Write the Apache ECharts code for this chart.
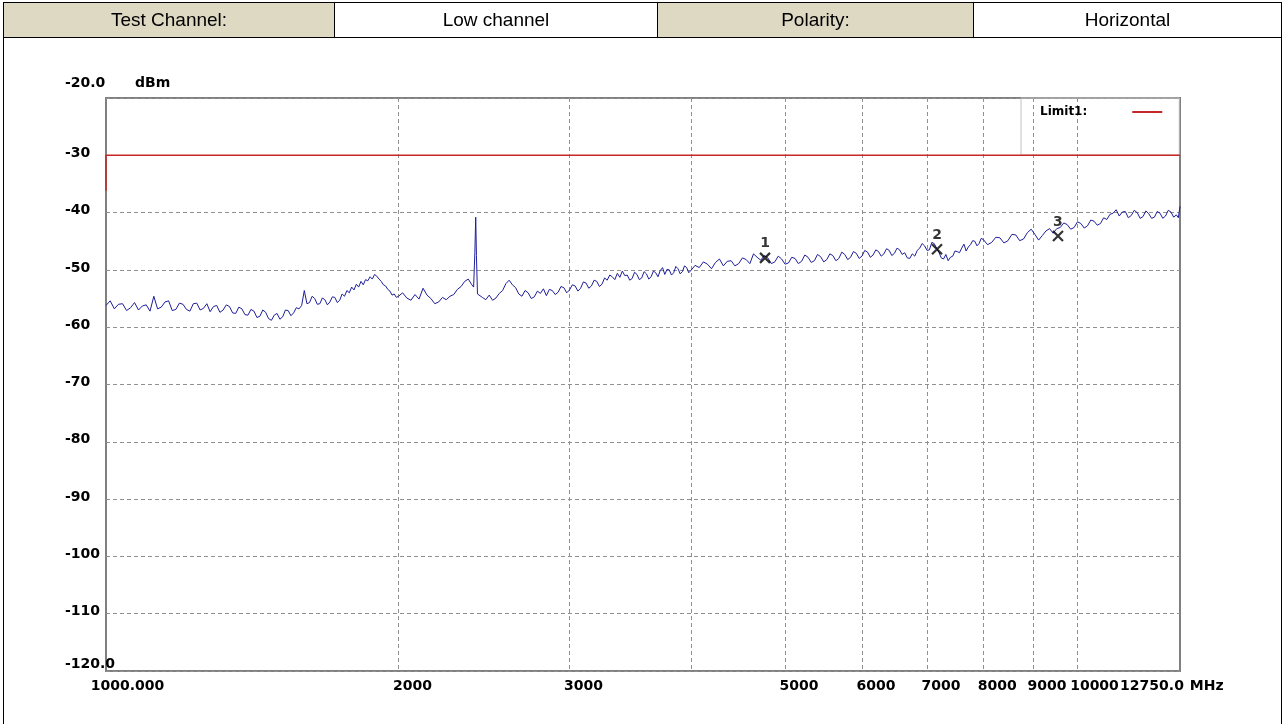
<!DOCTYPE html>
<html>
<head>
<meta charset="utf-8">
<script src="https://cdn.jsdelivr.net/npm/echarts@6/dist/echarts.min.js"></script>
<style>
  body { margin: 0; background: #fff; }
  #frame { position: absolute; left: 3px; top: 2px; width: 1279px; height: 722px; border-left: 1px solid #000; border-right: 1px solid #000; box-sizing: border-box; }
  table { position: absolute; left: 3px; top: 2px; width: 1279px; height: 36px; border-collapse: collapse;
          font-family: "Liberation Sans", Arial, sans-serif; font-size: 19px; }
  td { border: 1px solid #000; text-align: center; padding: 0; }
  td.h { background: #ddd9c3; }
  #chart { position: absolute; left: 0; top: 0; width: 1283px; height: 724px; }
</style>
</head>
<body>
<div id="frame"></div>
<div id="chart"></div>
<table>
  <tr>
    <td class="h" style="width:330px">Test Channel:</td>
    <td style="width:322px">Low channel</td>
    <td class="h" style="width:315px">Polarity:</td>
    <td>Horizontal</td>
  </tr>
</table>
<script>
var freqs = [
  1000,1010,1020,1030,1040,1050,1060,1070,1080,1090,1100,1110,1120,1130,1140,1150,1160,1170,1180,1190,
  1200,1210,1220,1230,1240,1250,1260,1270,1280,1290,1300,1310,1320,1330,1340,1350,1360,1370,1380,1390,
  1400,1410,1420,1430,1440,1450,1460,1470,1480,1490,1500,1510,1520,1530,1540,1550,1560,1570,1580,1590,
  1600,1610,1620,1630,1640,1650,1660,1670,1680,1690,1700,1710,1720,1730,1740,1750,1760,1770,1780,1790,
  1800,1810,1820,1830,1840,1850,1860,1870,1880,1890,1900,1910,1920,1930,1940,1950,1960,1970,1980,1990,2000,
  2020,2040,2060,2080,2100,2120,2140,2160,2180,2200,2220,2240,2260,2280,2300,2320,2340,2360,2380,
  2390,2397,2402,2406,2412,
  2420,2440,2460,2480,2500,2520,2540,2560,2580,2600,2620,2640,2660,2680,2700,2720,2740,2760,2780,2800,
  2820,2840,2860,2880,2900,2920,2940,2960,2980,3000,3020,3040,3060,3080,3100,3120,3140,3160,3180,3200,
  3220,3240,3260,3280,3300,3320,3340,3360,3380,3400,3420,3440,3460,3480,3500,3520,3540,3560,3580,3600,
  3620,3640,3660,3680,3700,3720,3740,3760,3780,3800,3820,3840,3860,3880,3900,3920,3940,3960,3980,4000,
  4040,4080,4120,4160,4200,4240,4280,4320,4360,4400,4440,4480,4520,4560,4600,4640,4680,4720,4760,4800,
  4840,4880,4920,4960,5000,5040,5080,5120,5160,5200,5240,5280,5320,5360,5400,5440,5480,5520,5560,5600,
  5640,5680,5720,5760,5800,5840,5880,5920,5960,6000,6040,6080,6120,6160,6200,6240,6280,6320,6360,6400,
  6440,6480,6520,6560,6600,6640,6680,6720,6760,6800,6840,6880,6920,6960,7000,7040,7080,7120,7160,7200,
  7240,7280,7320,7360,7400,7440,7480,7520,7560,7600,7640,7680,7720,7760,7800,7840,7880,7920,7960,8000,
  8080,8160,8240,8320,8400,8480,8560,8640,8720,8800,8880,8960,9040,9120,9200,9280,9360,9440,9520,9600,
  9680,9760,9840,9920,10000,10080,10160,10240,10320,10400,10480,10560,10640,10720,10800,10880,10960,11040,11120,11200,
  11280,11360,11440,11520,11600,11680,11760,11840,11920,12000,12080,12160,12240,12320,12400,12480,12560,12640,12700,12750
];
var levels = [
  -56.2,-55.4,-56.8,-56.0,-55.9,-57.1,-56.6,-55.7,-57.0,-56.3,-56.1,-57.2,-54.6,-56.8,-56.5,-55.6,-55.4,-57.1,-56.9,-55.8,
  -56.0,-56.9,-57.2,-55.9,-55.8,-57.0,-56.7,-55.9,-57.3,-56.4,-56.2,-57.4,-57.0,-56.1,-56.4,-57.5,-57.6,-56.5,-56.8,-57.8,
  -57.9,-56.9,-57.2,-58.3,-58.1,-57.0,-57.4,-58.5,-58.8,-57.9,-57.6,-58.6,-58.2,-57.0,-57.1,-58.0,-57.5,-56.6,-56.8,-56.2,
  -53.6,-55.9,-55.7,-54.6,-55.0,-56.0,-55.9,-54.9,-55.2,-56.1,-55.6,-54.7,-54.8,-55.7,-55.3,-54.2,-54.6,-53.6,-54.0,-53.0,
  -53.5,-52.5,-53.0,-52.0,-52.6,-51.7,-51.9,-51.2,-51.6,-50.8,-51.1,-51.6,-52.0,-52.6,-52.8,-53.4,-53.7,-54.4,-54.2,-54.8,-54.6,
  -54.0,-54.9,-55.3,-54.3,-55.1,-53.2,-54.4,-55.0,-55.9,-55.6,-54.8,-55.2,-54.6,-54.3,-53.4,-52.9,-52.0,-51.6,-52.6,
  -53.0,-47.0,-40.8,-47.5,-54.2,
  -54.0,-54.8,-55.2,-54.4,-55.3,-54.9,-54.1,-53.6,-52.4,-51.8,-52.6,-53.1,-54.2,-54.6,-53.6,-54.0,-55.0,-54.7,-53.7,-54.1,
  -53.3,-54.5,-53.4,-53.6,-54.3,-53.9,-52.9,-53.1,-54.0,-53.5,-52.6,-52.8,-53.7,-53.2,-52.1,-52.3,-53.2,-52.8,-51.8,-52.0,
  -52.9,-52.5,-51.4,-51.8,-50.9,-51.2,-51.7,-50.6,-51.3,-50.2,-51.0,-50.9,-51.8,-51.5,-50.4,-50.8,-51.7,-51.4,-50.3,-50.7,
  -51.6,-51.2,-50.2,-50.5,-51.2,-50.1,-49.6,-50.8,-49.9,-50.0,-50.9,-50.5,-49.4,-49.8,-50.7,-50.3,-49.3,-49.6,-50.5,-50.1,
  -49.2,-49.6,-48.6,-49.0,-49.8,-48.7,-48.1,-49.3,-48.5,-48.4,-49.3,-48.9,-47.9,-48.2,-48.9,-47.2,-47.8,-48.3,-47.5,-47.9,
  -48.9,-48.6,-47.6,-48.1,-49.0,-48.8,-47.8,-48.0,-48.9,-48.5,-47.4,-47.8,-48.7,-48.4,-47.3,-47.7,-48.6,-48.2,-47.2,-47.5,
  -48.4,-48.0,-46.9,-47.3,-48.2,-47.8,-46.8,-47.1,-48.0,-47.6,-46.6,-46.9,-47.8,-47.4,-46.5,-46.8,-47.6,-47.2,-46.3,-46.6,
  -47.5,-47.1,-46.2,-46.5,-47.3,-47.0,-47.9,-48.0,-47.2,-47.6,-46.6,-46.2,-45.4,-45.8,-46.6,-46.5,-45.2,-45.4,-46.2,-46.9,
  -47.9,-48.1,-47.3,-48.4,-47.8,-47.6,-46.7,-46.8,-47.0,-46.2,-45.5,-46.7,-46.0,-45.6,-44.9,-45.0,-45.8,-45.4,-44.5,-44.7,
  -45.6,-45.2,-44.3,-44.4,-45.3,-44.9,-43.8,-43.9,-44.9,-44.6,-43.5,-42.9,-43.8,-44.8,-44.0,-43.2,-42.8,-43.6,-42.8,-42.6,
  -41.8,-42.1,-42.9,-42.6,-41.6,-41.9,-42.7,-42.3,-41.3,-41.5,-42.2,-41.9,-40.9,-41.2,-40.3,-40.1,-39.5,-40.6,-39.9,-39.8,
  -40.9,-40.5,-39.6,-40.0,-41.0,-40.7,-39.7,-40.2,-41.0,-40.8,-39.8,-40.1,-41.0,-40.6,-39.6,-39.9,-40.8,-40.4,-40.9,-38.9
];
var limitFreqs = [1000, 1000, 12750];
var limitLevels = [-36.2, -30, -30];
var markerFreqs = [4768, 7168, 9548];
var markerLevels = [-47.9, -46.4, -44.1];
var markerNames = ['1', '2', '3'];
var gridFreqs = [2000, 3000, 4000, 5000, 6000, 7000, 8000, 9000, 10000];
var xLabelFreqs = [1000, 2000, 3000, 5000, 6000, 7000, 8000, 9000, 10000, 12749.99];
var yTicks = [-120, -110, -100, -90, -80, -70, -60, -50, -40, -30, -20];

var chart = echarts.init(document.getElementById('chart'));

var trace = freqs.map(function (f, i) { return [f, levels[i]]; });
var limit = limitFreqs.map(function (f, i) { return [f, limitLevels[i]]; });
var markers = markerFreqs.map(function (f, i) { return { value: [f, markerLevels[i]], name: markerNames[i] }; });

var lbl = { fontFamily: 'DejaVu Sans', fontWeight: 'bold', fontSize: 14, color: '#000' };

option = {
  animation: false,
  grid: { left: 106, top: 98, right: 103, bottom: 53, show: true, borderColor: '#808080', borderWidth: 2, backgroundColor: 'transparent' },
  legend: {
    data: [{ name: 'Limit1:', icon: 'rect' }],
    left: 1021, top: 98, z: 1,
    orient: 'vertical', align: 'right',
    itemWidth: 30, itemHeight: 2,
    padding: [8, 17, 37, 19],
    borderColor: '#c0c0c0', borderWidth: 1,
    selectedMode: false,
    textStyle: { fontFamily: 'DejaVu Sans', fontWeight: 'bold', fontSize: 12, color: '#000', padding: [0, 40, 0, 0] }
  },
  xAxis: {
    type: 'log', logBase: 10, min: 1000, max: 12750,
    name: 'MHz', nameLocation: 'end', nameGap: 6,
    nameTextStyle: Object.assign({ verticalAlign: 'top', padding: [8, 0, 0, 0] }, lbl),
    axisLine: { show: false },
    axisTick: { show: false, customValues: gridFreqs },
    splitLine: { show: true, lineStyle: { color: '#909090', type: [4, 3], width: 1 } },
    axisLabel: {
      customValues: xLabelFreqs, margin: 8,
      showMinLabel: true, showMaxLabel: true, hideOverlap: false,
      formatter: function (v) {
        if (v === 1000) return '{s|1000.000}';
        if (v > 12000) return '{e|12750.0}';
        if (v === 10000) return '{m|10000}';
        return '{n|' + v + '}';
      },
      rich: {
        s: Object.assign({ padding: [0, 0, 0, 43] }, lbl),
        e: Object.assign({ padding: [0, 56, 0, 0] }, lbl),
        m: Object.assign({ padding: [0, 0, 0, 34] }, lbl),
        n: Object.assign({ padding: [0, 0, 0, 28] }, lbl)
      }
    }
  },
  yAxis: {
    type: 'value', min: -120, max: -20, interval: 10,
    name: 'dBm', nameLocation: 'end', nameGap: 15,
    nameTextStyle: Object.assign({ align: 'left', verticalAlign: 'middle', padding: [0, 0, 0, 29] }, lbl),
    axisLine: { show: false },
    axisTick: { show: false },
    splitLine: { show: true, lineStyle: { color: '#909090', type: [4, 3], width: 1 } },
    axisLabel: {
      align: 'left', margin: 41,
      customValues: yTicks,
      showMinLabel: true, showMaxLabel: true,
      formatter: function (v) {
        if (v === -20) return '{t|-20.0}';
        if (v === -120) return '{b|-120.0}';
        return '{n|' + v + '}';
      },
      rich: {
        t: Object.assign({ padding: [0, 0, 30, 0] }, lbl),
        b: Object.assign({ padding: [0, 0, 14, 0] }, lbl),
        n: Object.assign({ padding: [0, 0, 4, 0] }, lbl)
      }
    }
  },
  series: [
    {
      name: 'Limit1:', type: 'line', data: limit, showSymbol: false,
      color: '#c62828', lineStyle: { color: '#c62828', width: 1.5 }, z: 2
    },
    {
      name: 'trace', type: 'line', data: trace, showSymbol: false,
      lineStyle: { color: '#1e1e9a', width: 1 }, z: 3
    },
    {
      name: 'markers', type: 'scatter', data: markers,
      symbol: 'path://M0,0L10,10M10,0L0,10', symbolSize: 10,
      itemStyle: { color: 'rgba(0,0,0,0)', borderColor: '#000', borderWidth: 2.2 },
      label: { show: true, position: 'top', distance: 1, formatter: '{b}', fontFamily: 'DejaVu Sans', fontWeight: 'bold', fontSize: 14, color: '#000' },
      z: 4
    }
  ]
};

chart.setOption(option);
</script>
</body>
</html>
